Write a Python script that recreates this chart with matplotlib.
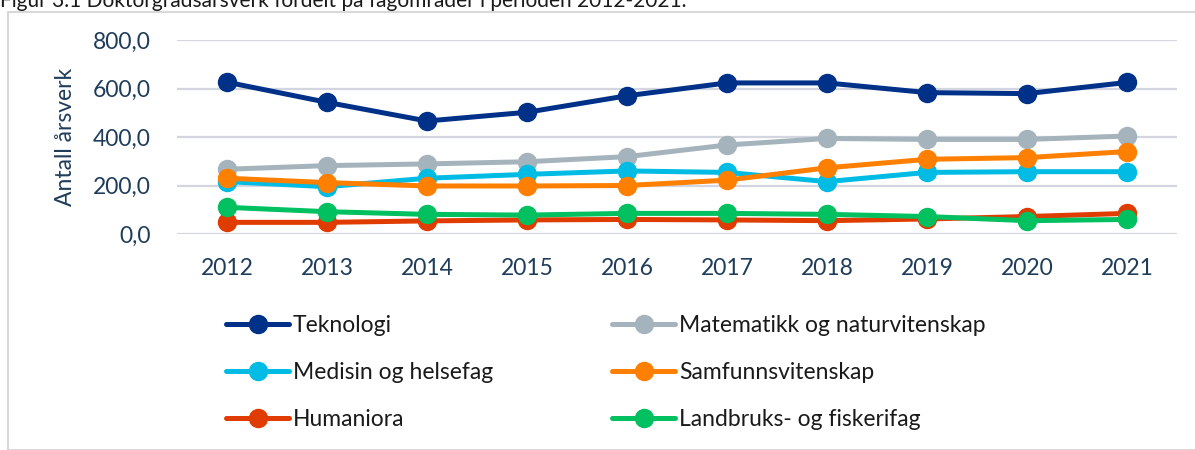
import matplotlib
matplotlib.use("Agg")
import matplotlib.pyplot as plt
from matplotlib.patches import Rectangle

years = [2012, 2013, 2014, 2015, 2016, 2017, 2018, 2019, 2020, 2021]
teknologi = [626, 543, 466, 502, 570, 623, 623, 583, 579, 625]
matematikk = [267, 282, 289, 298, 319, 367, 394, 390, 390, 404]
medisin = [216, 195, 230, 246, 260, 254, 216, 254, 257, 257]
samfunn = [230, 212, 198, 198, 200, 222, 273, 308, 315, 340]
humaniora = [48, 48, 54, 58, 60, 58, 55, 62, 72, 85]
landbruk = [110, 92, 81, 78, 85, 85, 81, 72, 55, 60]

series = [
    ("Teknologi", teknologi, "#003189"),
    ("Matematikk og naturvitenskap", matematikk, "#A5B4BC"),
    ("Medisin og helsefag", medisin, "#00BCE4"),
    ("Samfunnsvitenskap", samfunn, "#FF7F00"),
    ("Humaniora", humaniora, "#E03C00"),
    ("Landbruks- og fiskerifag", landbruk, "#00C060"),
]

plt.rcParams["font.family"] = ["Lato", "DejaVu Sans"]
text_col = "#1F3D5A"
fs = 16.5

fig = plt.figure(figsize=(11.95, 4.5), dpi=100)
ax = fig.add_axes([177 / 1195, 1 - 234 / 450, 1000 / 1195, 194 / 450])

x = list(range(len(years)))
lines = []
for name, vals, col in series:
    ln, = ax.plot(x, vals, color=col, lw=3.6, marker="o", ms=13, label=name,
                  solid_capstyle="round")
    lines.append(ln)

ax.set_xlim(-0.5, len(years) - 0.5)
ax.set_ylim(0, 800)
ax.set_yticks([0, 200, 400, 600, 800])
ax.set_yticklabels([f"{v:.1f}".replace(".", ",") for v in [0, 200, 400, 600, 800]])
ax.set_xticks(x)
ax.set_xticklabels([str(y) for y in years])
ax.tick_params(length=0, labelsize=fs, colors=text_col)
ax.tick_params(axis="y", pad=19)
ax.tick_params(axis="x", pad=17)
ax.grid(axis="y", color="#D3D5E0", lw=1.6)
ax.set_axisbelow(True)
for s in ax.spines.values():
    s.set_visible(False)
ax.set_ylabel("Antall årsverk", fontsize=fs, color=text_col, labelpad=12)

# legend fills row by row in the reference
order = [0, 2, 4, 1, 3, 5]
fig.legend([lines[i] for i in order], [series[i][0] for i in order],
           loc="upper left", bbox_to_anchor=(215 / 1195, 1 - 304 / 450),
           ncol=2, frameon=False, fontsize=fs, handlelength=2.75,
           handletextpad=0.15, columnspacing=5.2, labelspacing=1.12,
           borderpad=0, labelcolor="#1a1a1a")

fig.patches.append(Rectangle((8 / 1195, 0), 1.2, 1 - 12 / 450,
                             transform=fig.transFigure, fill=False,
                             edgecolor="#D9D9D9", lw=1.5))
fig.text(0.0, 1 - 7 / 450,
         "Figur 3.1 Doktorgradsårsverk fordelt på fagområder i perioden 2012-2021.",
         fontsize=15, va="baseline", ha="left", color="#1a1a1a")

fig.savefig("out.png", dpi=100)
